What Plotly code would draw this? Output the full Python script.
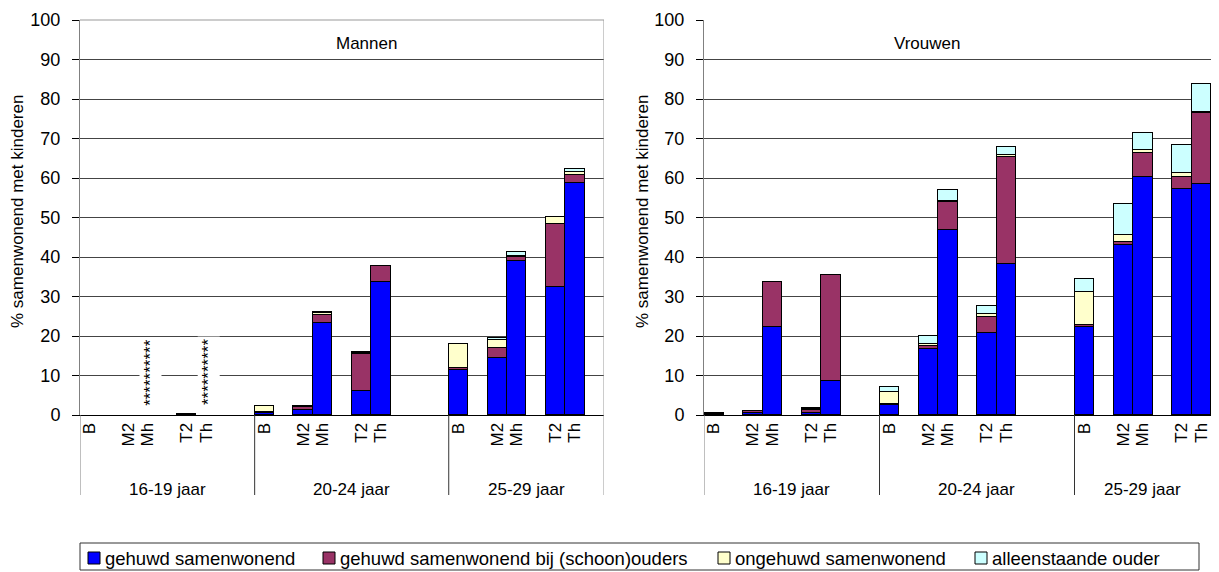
import plotly.graph_objects as go

# the page body has an 8px margin, so the figure is laid out in reference
# pixel coordinates shifted by that offset
OFF = 8
W, H = 1219 - OFF, 572 - OFF

groups = ["16-19 jaar", "20-24 jaar", "25-29 jaar"]
bars = ["B", "M2", "Mh", "T2", "Th"]
series = ["gehuwd samenwonend", "gehuwd samenwonend bij (schoon)ouders",
          "ongehuwd samenwonend", "alleenstaande ouder"]
colors = ["#0000FF", "#993366", "#FFFFCC", "#CCFFFF"]

# values per chart, order: group x bar (16-19 B..Th, 20-24 B..Th, 25-29 B..Th)
man_gehuwd = [None, None, None, 0.3, None, 0.5, 1.2, 23.4, 6.2, 33.6, 11.4, 14.5, 39.0, 32.3, 58.7]
man_ouders = [None, None, None, None, None, 0.3, 0.8, 1.9, 9.2, 4.0, 0.4, 2.5, 0.9, 16.0, 2.1]
man_ongehuwd = [None, None, None, None, None, 1.4, 0.2, 0.5, 0.3, 0.2, 6.2, 2.0, 0.4, 1.9, 0.6]
man_alleen = [None, None, None, None, None, None, None, 0.3, 0.3, None, None, 0.4, 1.0, None, 0.8]

vrouw_gehuwd = [0.3, 0.5, 22.4, 0.6, 8.7, 2.6, 16.6, 46.8, 20.7, 38.2, 22.2, 43.0, 60.3, 57.2, 58.4]
vrouw_ouders = [0.3, 0.5, 11.2, 0.6, 26.7, 0.2, 0.9, 7.1, 4.2, 27.2, 0.6, 0.7, 6.1, 3.1, 18.0]
vrouw_ongehuwd = [None, None, None, 0.2, None, 3.1, 0.6, 0.4, 0.7, 0.4, 8.3, 1.9, 0.7, 0.9, 0.4]
vrouw_alleen = [None, None, None, 0.3, None, 1.3, 2.0, 2.6, 2.1, 2.1, 3.3, 7.8, 4.4, 7.1, 6.9]

# bars without data in the Mannen chart, marked with asterisks
man_missing = [("16-19 jaar", "Mh"), ("16-19 jaar", "Th")]

FONT = "Liberation Sans, Arial, sans-serif"

# slot layout of the category axis (empty slots between bars as in the original)
bar_slot = {"B": 0, "M2": 2, "Mh": 3, "T2": 5, "Th": 6}
group_start = [0, 9, 19]
n_slots = {"x": 27, "x2": 26}


def px(x):
    return (x - OFF) / W


def py(y):
    return 1 - (y - OFF) / H


def slot(g, b):
    return group_start[groups.index(g)] + bar_slot[b]


xs = [slot(g, b) for g in groups for b in bars]

fig = go.Figure()
charts = [("x", "y", [man_gehuwd, man_ouders, man_ongehuwd, man_alleen]),
          ("x2", "y2", [vrouw_gehuwd, vrouw_ouders, vrouw_ongehuwd, vrouw_alleen])]
for xa, ya, vals in charts:
    for name, col, v in zip(series, colors, vals):
        fig.add_trace(go.Bar(x=xs, y=v, name=name, xaxis=xa, yaxis=ya,
                             marker=dict(color=col, line=dict(color="black", width=1)),
                             width=1, showlegend=False))

y_dom = [py(415), py(20)]
axis_common = dict(showline=True, ticks="", tickangle=-90, automargin=False,
                   tickvals=xs, ticktext=[b for g in groups for b in bars],
                   tickfont=dict(size=17, color="black"),
                   linecolor="black", linewidth=1, showgrid=False, zeroline=False)
yaxis_common = dict(range=[0, 100], dtick=10, showgrid=True, gridcolor="#444444",
                    gridwidth=1, showline=True, linecolor="#808080", linewidth=1,
                    ticks="outside", ticklen=7, tickcolor="black", automargin=False,
                    tickfont=dict(size=18, color="black"), zeroline=False,
                    domain=y_dom, ticklabelstandoff=8)

fig.update_layout(
    width=W, height=H,
    margin=dict(l=0, r=0, t=0, b=0, pad=0, autoexpand=False),
    paper_bgcolor="white", plot_bgcolor="white",
    barmode="stack", bargap=0, showlegend=False,
    font=dict(family=FONT, color="black"),
    xaxis=dict(domain=[px(80), px(604)], range=[-0.5, n_slots["x"] - 0.5], anchor="y", **axis_common),
    xaxis2=dict(domain=[px(704), px(1211)], range=[-0.5, n_slots["x2"] - 0.5], anchor="y2", **axis_common),
    yaxis=dict(anchor="x", **yaxis_common),
    yaxis2=dict(anchor="x2", **yaxis_common),
)

shapes = []
annotations = []
bottom = py(495)
for xa, title, tx in [("x", "Mannen", 366), ("x2", "Vrouwen", 927)]:
    n = n_slots[xa]
    # plot frame continuation below the axis
    shapes.append(dict(type="line", xref=xa, yref="paper", x0=-0.5, x1=-0.5,
                       y0=y_dom[0], y1=bottom, line=dict(color="#808080", width=1)))
    for i, g in enumerate(groups):
        s = group_start[i]
        e = group_start[i + 1] if i + 1 < len(groups) else n
        if i > 0:
            shapes.append(dict(type="line", xref=xa, yref="paper", x0=s - 0.5, x1=s - 0.5,
                               y0=y_dom[0], y1=bottom, line=dict(color="#333333", width=1)))
        annotations.append(dict(text=g, xref=xa, yref="paper", x=(s + e - 1) / 2, y=py(489),
                                xanchor="center", yanchor="middle",
                                showarrow=False, font=dict(size=17)))
    annotations.append(dict(text=title, xref="paper", yref="paper", x=px(tx), y=py(43),
                            xanchor="center", yanchor="middle",
                            showarrow=False, font=dict(size=17)))

# right frame of the Mannen chart
shapes.append(dict(type="line", xref="x", yref="paper", x0=26.5, x1=26.5,
                   y0=y_dom[1], y1=bottom, line=dict(color="#999999", width=1)))
shapes.append(dict(type="line", xref="paper", yref="paper", x0=px(80), x1=px(604),
                   y0=y_dom[1], y1=y_dom[1], line=dict(color="#999999", width=1)))

# y axis titles
for x in [18, 643]:
    annotations.append(dict(text="% samenwonend met kinderen", xref="paper", yref="paper",
                            x=px(x), y=py(212), textangle=-90, showarrow=False,
                            xanchor="center", yanchor="middle", font=dict(size=17)))

# asterisks for missing data
for g, b in man_missing:
    annotations.append(dict(text="*" * 10, xref="x", yref="y", x=slot(g, b), y=10.9,
                            xshift=3, textangle=-90, showarrow=False, bgcolor="white",
                            xanchor="center", yanchor="middle",
                            borderpad=1, font=dict(size=17, color="black")))

# legend drawn by hand to match the framed Excel legend
shapes.append(dict(type="rect", xref="paper", yref="paper", x0=px(80), x1=px(1199),
                   y0=py(570), y1=py(543), line=dict(color="#333333", width=1),
                   fillcolor="white"))
leg_x = [88, 323, 718, 975]
for name, col, lx in zip(series, colors, leg_x):
    shapes.append(dict(type="rect", xref="paper", yref="paper", x0=px(lx), x1=px(lx + 12),
                       y0=py(564), y1=py(552), fillcolor=col,
                       line=dict(color="black", width=1)))
    annotations.append(dict(text=name, xref="paper", yref="paper", x=px(lx + 15), y=py(558),
                            xanchor="left", yanchor="middle",
                            showarrow=False, font=dict(size=18.5)))

fig.update_layout(shapes=shapes, annotations=annotations)

fig.write_html("out.html")
